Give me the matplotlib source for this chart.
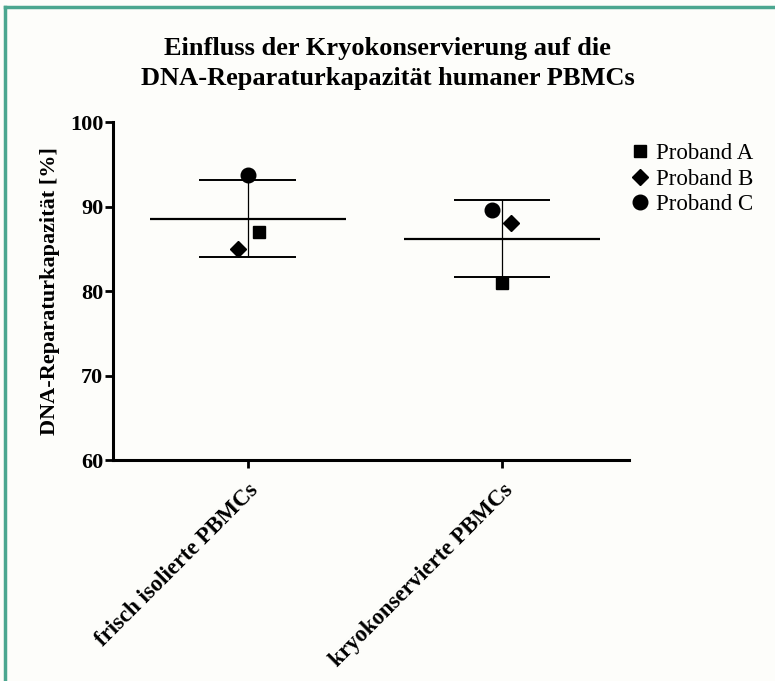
import numpy as np
import matplotlib
matplotlib.use("Agg")
from matplotlib import pyplot as plt

groups = ["frisch isolierte PBMCs", "kryokonservierte PBMCs"]
subjects = ["Proband A", "Proband B", "Proband C"]
proband_a = [87.0, 81.0]
proband_b = [85.0, 88.0]
proband_c = [93.7, 89.6]
yticks = [60, 70, 80, 90, 100]

# small horizontal scatter of the points, per group
jitter = {"Proband A": [0.045, 0.0],
          "Proband B": [-0.04, 0.035],
          "Proband C": [0.0, -0.04]}
markers = {"Proband A": ("s", 8.5), "Proband B": ("D", 8), "Proband C": ("o", 10.5)}

plt.rcParams['font.family'] = ['Liberation Serif', 'DejaVu Serif']

fig = plt.figure(figsize=(7.75, 6.81), dpi=100)
fig.patch.set_facecolor("#fdfdfa")
ax = fig.add_axes([0.1458, 0.3245, 0.6658, 0.4963])
ax.set_facecolor("#fdfdfa")

# teal frame (top and left visible)
fig.add_artist(plt.Line2D([0.006, 1.0], [0.99, 0.99], transform=fig.transFigure,
                          color="#4ba68f", lw=2.5))
fig.add_artist(plt.Line2D([0.006, 0.006], [0.0, 0.99], transform=fig.transFigure,
                          color="#4ba68f", lw=2.5))

data = {"Proband A": proband_a, "Proband B": proband_b, "Proband C": proband_c}
x = np.arange(len(groups))

for i in range(len(groups)):
    vals = np.array([data[s][i] for s in subjects])
    m = vals.mean()
    sd = vals.std(ddof=1)
    ax.hlines(m, i - 0.385, i + 0.385, color="black", lw=1.6, zorder=2)
    ax.hlines([m - sd, m + sd], i - 0.19, i + 0.19, color="black", lw=1.4, zorder=2)
    ax.vlines(i, m - sd, m + sd, color="black", lw=0.9, zorder=2)

for s in subjects:
    mk, ms = markers[s]
    ax.plot(x + np.array(jitter[s]), data[s], linestyle="none", marker=mk,
            markersize=ms, color="black", label=s, zorder=3)

ax.set_xlim(-0.53, 1.5)
ax.set_ylim(60, 100)
ax.set_yticks(yticks)
ax.set_xticks(x)
ax.set_xticklabels(groups, rotation=45, ha="right", rotation_mode="anchor",
                   fontsize=16.5, fontweight="bold")
for lab in ax.get_yticklabels():
    lab.set_fontsize(16)
    lab.set_fontweight("bold")

for side in ["top", "right"]:
    ax.spines[side].set_visible(False)
for side in ["left", "bottom"]:
    ax.spines[side].set_linewidth(2.2)
ax.tick_params(axis="both", length=6, width=2, pad=1)
ax.tick_params(axis="x", pad=8)

ax.set_ylabel("DNA-Reparaturkapazität [%]", fontsize=16, fontweight="bold", labelpad=7)

fig.suptitle("Einfluss der Kryokonservierung auf die\nDNA-Reparaturkapazität humaner PBMCs",
             x=0.5, y=0.945, fontsize=19, fontweight="bold", linespacing=1.35)

fig.legend(loc="upper left", bbox_to_anchor=(0.785, 0.82), frameon=False,
           fontsize=16.5, handletextpad=0.2, labelspacing=0.2, handlelength=1.0)

fig.savefig("out.png", dpi=100, facecolor=fig.get_facecolor())
